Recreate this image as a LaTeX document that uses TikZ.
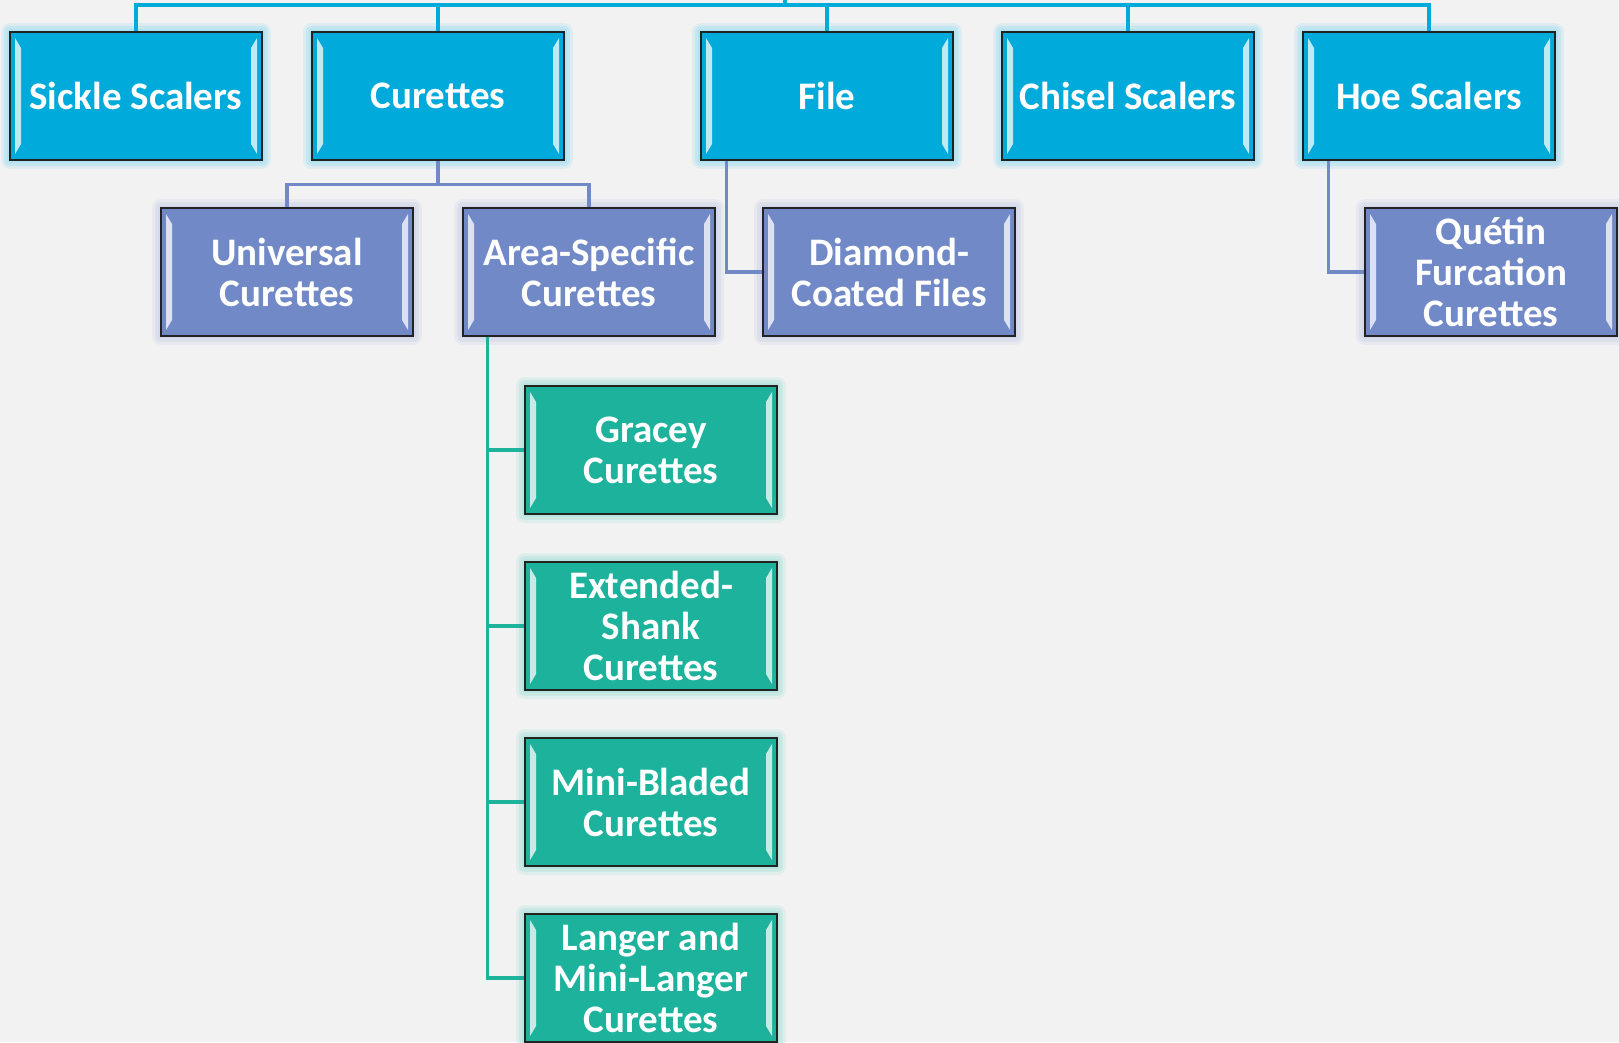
\documentclass[tikz,border=0pt]{standalone}
\usepackage{fontspec}
\setmainfont{Carlito}
\definecolor{paper}{RGB}{242,242,242}
\definecolor{topblue}{RGB}{0,171,219}
\definecolor{midblue}{RGB}{114,137,199}
\definecolor{leafgreen}{RGB}{28,178,155}
\definecolor{edge}{RGB}{34,34,34}

\tikzset{
  bevel/.style={path picture={
    \fill[white,opacity=.75] ([shift={(5pt,-6pt)}]path picture bounding box.north west) -- ([shift={(11pt,-16pt)}]path picture bounding box.north west)
      -- ([shift={(11pt,16pt)}]path picture bounding box.south west) -- ([shift={(5pt,6pt)}]path picture bounding box.south west) -- cycle;
    \fill[white,opacity=.75] ([shift={(-5pt,-6pt)}]path picture bounding box.north east) -- ([shift={(-11pt,-16pt)}]path picture bounding box.north east)
      -- ([shift={(-11pt,16pt)}]path picture bounding box.south east) -- ([shift={(-5pt,6pt)}]path picture bounding box.south east) -- cycle;
  }},
  card/.style={draw=edge, line width=1.4pt, fill=#1, minimum width=252pt, minimum height=128pt,
    inner sep=0pt, align=center, text=white, font=\fontsize{39}{41}\selectfont\bfseries,
    preaction={draw=#1!50!white, line width=18pt, line join=round, opacity=.18},
    preaction={draw=#1!45!white, line width=12pt, line join=round, opacity=.3},
    preaction={draw=#1!35!white, line width=6pt, line join=round, opacity=.6}, bevel},
  toplevel/.style={card=topblue},
  midlevel/.style={card=midblue},
  leaf/.style={card=leafgreen},
  topline/.style={draw=topblue, line width=3.5pt},
  midline/.style={draw=midblue, line width=3.5pt},
  leafline/.style={draw=leafgreen, line width=3.5pt}
}

\begin{document}
\begin{tikzpicture}[x=1pt,y=-1pt]
\fill[paper] (0,0) rectangle (1619,1042);
\useasboundingbox (0,0) rectangle (1619,1042);

% first row
\node[toplevel] (sickle)   at (136,96)  {Sickle Scalers};
\node[toplevel] (curettes) at (438,96)  {Curettes};
\node[toplevel] (file)     at (827,96)  {File};
\node[toplevel] (chisel)   at (1128,96) {Chisel Scalers};
\node[toplevel] (hoe)      at (1429,96) {Hoe Scalers};

% second row
\node[midlevel] (universal) at (287,272)  {Universal\\Curettes};
\node[midlevel] (area)      at (589,272)  {Area-Specific\\Curettes};
\node[midlevel] (diamond)   at (889,272)  {Diamond-\\Coated Files};
\node[midlevel] (quetin)    at (1491,272) {Quétin\\Furcation\\Curettes};

% area-specific curettes
\node[leaf] (gracey)     at (651,450) {Gracey\\Curettes};
\node[leaf] (extended)   at (651,626) {Extended-\\Shank\\Curettes};
\node[leaf] (minibladed) at (651,802) {Mini-Bladed\\Curettes};
\node[leaf] (langer)     at (651,978) {Langer and\\Mini-Langer\\Curettes};

% connectors
\coordinate (root) at (785,-10);
\coordinate (bus)  at (785,5);
\draw[topline] (root) -- (bus);
\foreach \n in {sickle,curettes,file,chisel,hoe}
  \draw[topline] (\n.north) |- (bus);

\draw[midline] (curettes.south) -- ++(0,24) -| (universal.north);
\draw[midline] (curettes.south) -- ++(0,24) -| (area.north);
\draw[midline] ([xshift=26pt]file.south west) |- (diamond.west);
\draw[midline] ([xshift=26pt]hoe.south west) |- (quetin.west);

\foreach \n in {gracey,extended,minibladed,langer}
  \draw[leafline] ([xshift=25pt]area.south west) |- (\n.west);
\end{tikzpicture}
\end{document}
